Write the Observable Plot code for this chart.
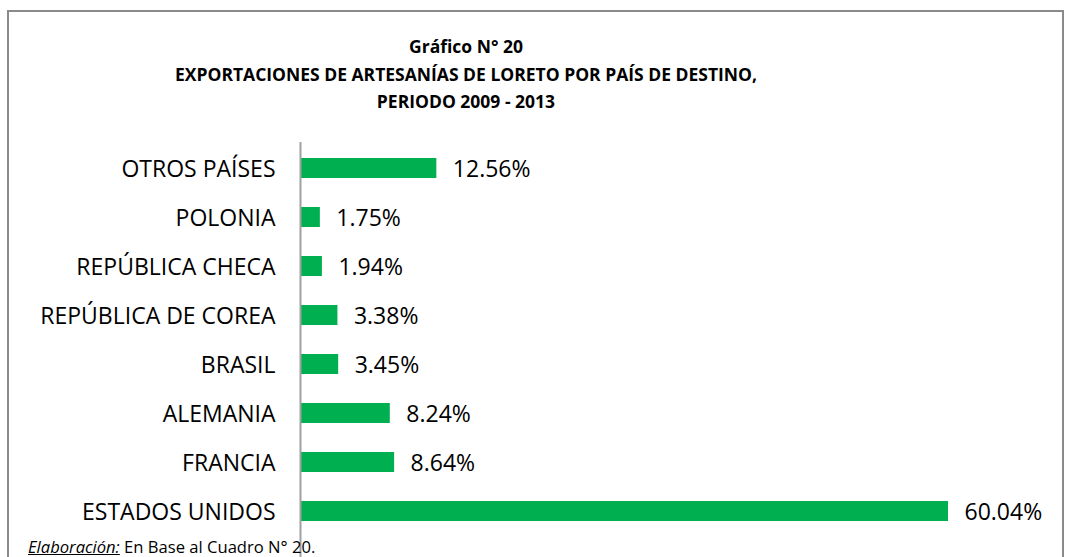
<!DOCTYPE html>
<html>
<head>
<meta charset="utf-8">
<script src="https://cdn.jsdelivr.net/npm/d3@7"></script>
<script src="https://cdn.jsdelivr.net/npm/@observablehq/plot@0.6"></script>
<style>
  html, body { margin: 0; padding: 0; background: #fff; }
  #wrap { position: relative; width: 1070px; height: 557px; overflow: hidden; background: #fff; font-family: "Open Sans", sans-serif; }
  #frame { position: absolute; left: 7px; top: 10px; width: 1057px; height: 600px; border: 2px solid #8a8a8a; box-sizing: border-box; }
  #title { position: absolute; left: 116px; width: 700px; top: 33px; text-align: center; font-weight: 700; font-size: 17.5px; line-height: 27.5px; color: #000; }
  #chart { position: absolute; left: 0; top: 142px; }
  #caption { position: absolute; left: 28px; top: 535px; font-size: 16.6px; color: #000; white-space: nowrap; }
  #caption .lab { font-style: italic; text-decoration: underline; }
</style>
</head>
<body>
<div id="wrap">
  <div id="frame"></div>
  <div id="title">Gráfico N° 20<br>EXPORTACIONES DE ARTESANÍAS DE LORETO POR PAÍS DE DESTINO,<br>PERIODO 2009 - 2013</div>
  <div id="chart"></div>
  <div id="caption"><span class="lab">Elaboración:</span> En Base al Cuadro N° 20.</div>
</div>
<script>
const countries = ["OTROS PAÍSES", "POLONIA", "REPÚBLICA CHECA", "REPÚBLICA DE COREA", "BRASIL", "ALEMANIA", "FRANCIA", "ESTADOS UNIDOS"];
const shares = [12.56, 1.75, 1.94, 3.38, 3.45, 8.24, 8.64, 60.04];
const shareLabels = ["12.56%", "1.75%", "1.94%", "3.38%", "3.45%", "8.24%", "8.64%", "60.04%"];

const data = countries.map((c, i) => ({country: c, value: shares[i], label: shareLabels[i]}));

const chart = Plot.plot({
  width: 1070,
  height: 415,
  marginTop: 0, marginBottom: 0, marginLeft: 0, marginRight: 0,
  style: {fontFamily: "Open Sans", color: "#000", background: "transparent"},
  x: {domain: [0, 60.04], range: [301, 948], axis: null},
  y: {domain: countries, range: [0.35, 394.75], paddingInner: 0.594, paddingOuter: 0.297, axis: null},
  marks: [
    Plot.barX(data, {y: "country", x: "value", fill: "#00B050"}),
    Plot.ruleX([0], {stroke: "#a0a0a0", strokeWidth: 2, dx: -1}),
    Plot.text(data, {y: "country", x: 0, text: "country", textAnchor: "end", dx: -26, dy: 1, fontSize: 23, fill: "#000"}),
    Plot.text(data, {y: "country", x: "value", text: "label", textAnchor: "start", dx: 16, dy: 1, fontSize: 23, fill: "#000"})
  ]
});
document.getElementById("chart").appendChild(chart);
</script>
</body>
</html>
